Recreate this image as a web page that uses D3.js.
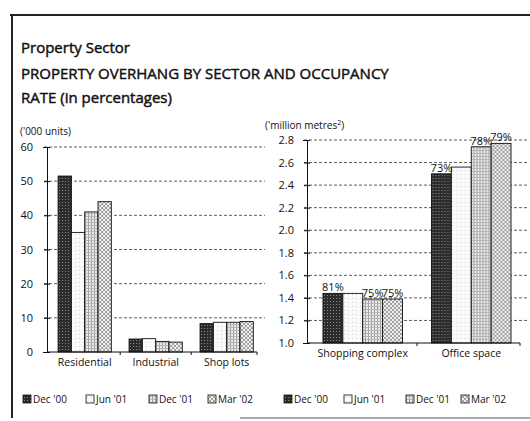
<!DOCTYPE html>
<html>
<head>
<meta charset="utf-8">
<script src="https://cdn.jsdelivr.net/npm/d3@7"></script>
<style>
  body { margin: 0; background: #fff; }
  text { font-family: "Open Sans", Lato, sans-serif; fill: #111; }
</style>
</head>
<body>
<div id="chart"></div>
<script>
// Property overhang chart, two panels sharing one legend style
const series = ["Dec '00", "Jun '01", "Dec '01", "Mar '02"];

const unitCategories = ["Residential", "Industrial", "Shop lots"];
const unitValues = [
    [51.5, 35.0, 41.0, 44.0],   // Residential
    [3.8, 3.9, 3.1, 2.9],       // Industrial
    [8.3, 8.7, 8.7, 8.9]        // Shop lots
];
const unitTicks = [0, 10, 20, 30, 40, 50, 60];

const spaceCategories = ["Shopping complex", "Office space"];
const spaceValues = [
    [1.44, 1.44, 1.39, 1.39],   // Shopping complex
    [2.50, 2.56, 2.74, 2.77]    // Office space
];
const occupancy = [
    ["81%", "", "75%", "75%"],
    ["73%", "", "78%", "79%"]
];
const spaceTicks = [1.0, 1.2, 1.4, 1.6, 1.8, 2.0, 2.2, 2.4, 2.6, 2.8];

const width = 530;
const height = 421;

const svg = d3.select('#chart')
    .append('svg')
    .attr('width', width)
    .attr('height', height);

// Fill patterns that imitate the printed screen tones
const defs = svg.append('defs');

function addPattern(id, size, bg, draw) {
    const p = defs.append('pattern')
        .attr('id', id)
        .attr('width', size)
        .attr('height', size)
        .attr('patternUnits', 'userSpaceOnUse');
    p.append('rect').attr('width', size).attr('height', size).attr('fill', bg);
    draw(p);
}

addPattern('pat0', 3, '#2c2c2c', p => {
    p.append('rect').attr('x', 1).attr('y', 1).attr('width', 1).attr('height', 1).attr('fill', '#8a8a8a');
});
addPattern('pat1', 4, '#fbfbfb', p => {
    p.append('rect').attr('x', 1).attr('y', 2).attr('width', 1).attr('height', 1).attr('fill', '#c8c8c8');
});
addPattern('pat2', 3, '#ececec', p => {
    p.append('rect').attr('x', 0).attr('y', 0).attr('width', 1).attr('height', 3).attr('fill', '#9a9a9a');
    p.append('rect').attr('x', 0).attr('y', 0).attr('width', 3).attr('height', 1).attr('fill', '#b5b5b5');
});
addPattern('pat3', 4, '#f0f0f0', p => {
    p.append('path').attr('d', 'M0,0 L4,4 M4,0 L0,4').attr('stroke', '#8c8c8c').attr('stroke-width', 0.8);
});

const fills = series.map((s, i) => `url(#pat${i})`);

// Frame
svg.append('line').attr('x1', 10).attr('x2', 530).attr('y1', 15).attr('y2', 15)
    .attr('stroke', '#222').attr('stroke-width', 2);
svg.append('line').attr('x1', 12).attr('x2', 12).attr('y1', 15).attr('y2', 418)
    .attr('stroke', '#222').attr('stroke-width', 2);
svg.append('line').attr('x1', 240).attr('x2', 530).attr('y1', 418).attr('y2', 418)
    .attr('stroke', '#555').attr('stroke-width', 1.2);

// Titles (regular weight thickened a little, the print is medium)
const titles = [
    ['Property Sector', 53],
    ['PROPERTY OVERHANG BY SECTOR AND OCCUPANCY', 79],
    ['RATE (in percentages)', 103]
];
svg.selectAll('text.title')
    .data(titles)
    .enter().append('text')
    .attr('class', 'title')
    .attr('x', 21)
    .attr('y', d => d[1])
    .style('font-size', '15px')
    .style('font-weight', 400)
    .style('stroke', '#111')
    .style('stroke-width', 0.45)
    .text(d => d[0]);

svg.append('text')
    .attr('x', 20).attr('y', 135)
    .style('font-size', '10px')
    .text("('000 units)");

const unitLabel = svg.append('text')
    .attr('x', 265).attr('y', 129)
    .style('font-size', '10px');
unitLabel.append('tspan').text("('million metres");
unitLabel.append('tspan').attr('dy', -4).style('font-size', '7px').text('2');
unitLabel.append('tspan').attr('dy', 4).text(')');

function drawPanel(opts) {
    const g = svg.append('g');

    const x = d3.scaleBand()
        .domain(opts.categories)
        .range(opts.xRange)
        .paddingInner(opts.padInner)
        .paddingOuter(opts.padOuter)
        .align(opts.align);

    const xs = d3.scaleBand()
        .domain(series)
        .range([0, x.bandwidth()]);

    const y = d3.scaleLinear()
        .domain(opts.yDomain)
        .range(opts.yRange);

    // dashed gridlines
    g.selectAll('line.grid')
        .data(opts.ticks.slice(1))
        .enter().append('line')
        .attr('class', 'grid')
        .attr('x1', opts.xRange[0] - 3)
        .attr('x2', opts.gridEnd)
        .attr('y1', d => y(d))
        .attr('y2', d => y(d))
        .attr('stroke', '#333')
        .attr('stroke-width', 0.8)
        .attr('stroke-dasharray', '3,2');

    // bars
    const groups = g.selectAll('g.cat')
        .data(opts.values)
        .enter().append('g')
        .attr('class', 'cat')
        .attr('transform', (d, i) => `translate(${x(opts.categories[i])},0)`);

    groups.selectAll('rect')
        .data(d => d.map((v, j) => ({ key: series[j], value: v, j: j })))
        .enter().append('rect')
        .attr('x', d => xs(d.key))
        .attr('width', xs.bandwidth())
        .attr('y', d => y(d.value))
        .attr('height', d => y(opts.yDomain[0]) - y(d.value))
        .attr('fill', d => fills[d.j])
        .attr('stroke', '#111')
        .attr('stroke-width', 0.9);

    if (opts.labels) {
        groups.selectAll('text.pct')
            .data((d, i) => d.map((v, j) => ({ key: series[j], value: v, label: opts.labels[i][j] })))
            .enter().append('text')
            .attr('class', 'pct')
            .attr('x', d => xs(d.key) + xs.bandwidth() / 2)
            .attr('y', d => y(d.value) - 2)
            .attr('text-anchor', 'middle')
            .style('font-size', '11px')
            .text(d => d.label);
    }

    // y axis
    const yAxis = d3.axisLeft(y)
        .tickValues(opts.ticks)
        .tickSize(4)
        .tickPadding(opts.tickPad)
        .tickFormat(opts.format);
    const ya = g.append('g')
        .attr('transform', `translate(${opts.xRange[0]},0)`)
        .call(yAxis);
    ya.select('.domain').attr('stroke', '#111');
    ya.selectAll('.tick line').attr('stroke', '#111').attr('x2', 3).attr('x1', -3);
    ya.selectAll('.tick text').style('font-size', '11px').attr('fill', '#111');

    // x axis baseline with ticks between groups
    const xAxis = d3.axisBottom(x).tickSize(0).tickPadding(7);
    const xa = g.append('g')
        .attr('transform', `translate(0,${y(opts.yDomain[0])})`)
        .call(xAxis);
    xa.select('.domain').attr('stroke', '#111').attr('d', `M${opts.xRange[0]},0H${opts.xRange[1]}`);
    xa.selectAll('.tick text').style('font-size', '10.5px').attr('fill', '#111');

    const step = x.step();
    const seps = opts.categories.slice(0, -1).map(c => x(c) + x.bandwidth() + (step - x.bandwidth()) / 2);
    seps.push(opts.xRange[1]);
    g.selectAll('line.sep')
        .data(seps)
        .enter().append('line')
        .attr('x1', d => d).attr('x2', d => d)
        .attr('y1', y(opts.yDomain[0]))
        .attr('y2', y(opts.yDomain[0]) + 3)
        .attr('stroke', '#111');

    // legend
    const leg = g.selectAll('g.leg')
        .data(series)
        .enter().append('g')
        .attr('class', 'leg')
        .attr('transform', (d, i) => `translate(${opts.legendX[i]},${opts.legendY})`);
    leg.append('rect')
        .attr('x', 0).attr('y', -4)
        .attr('width', 8).attr('height', 8)
        .attr('fill', (d, i) => fills[i])
        .attr('stroke', '#111')
        .attr('stroke-width', 0.8);
    leg.append('text')
        .attr('x', 10).attr('y', 3.5)
        .style('font-size', '10px')
        .text(d => d);
}

drawPanel({
    categories: unitCategories,
    values: unitValues,
    ticks: unitTicks,
    format: d3.format('d'),
    xRange: [47, 257],
    padInner: 0.25,
    padOuter: 0.104,
    align: 0.75,
    yDomain: [0, 60],
    yRange: [352, 147],
    gridEnd: 265,
    tickPad: 10,
    legendX: [23, 86, 149, 208],
    legendY: 399
});

drawPanel({
    categories: spaceCategories,
    values: spaceValues,
    labels: occupancy,
    ticks: spaceTicks,
    format: d3.format('.1f'),
    xRange: [307, 520],
    padInner: 0.267,
    padOuter: 0.115,
    align: 0.64,
    yDomain: [1.0, 2.8],
    yRange: [343, 140],
    gridEnd: 527,
    tickPad: 9,
    legendX: [284, 344, 406, 461],
    legendY: 399
});
</script>
</body>
</html>
